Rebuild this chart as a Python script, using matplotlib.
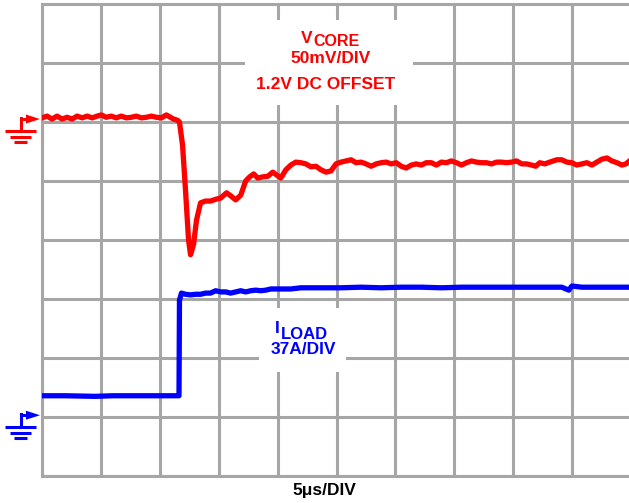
import numpy as np
import matplotlib.pyplot as plt
from matplotlib.lines import Line2D
from matplotlib.patches import Polygon, Rectangle
from matplotlib.transforms import IdentityTransform

# time in us (5 us/div), traces in screen divisions
t_core = [0.0, 0.43, 0.85, 1.28, 1.70, 2.13, 2.56, 2.98, 3.41, 3.83, 4.26, 4.69, 5.03, 5.45,
          5.88, 6.30, 6.73, 7.16, 7.58, 8.01, 8.43, 8.86, 9.28, 9.71, 10.14, 10.56, 10.90,
          11.16, 11.50, 11.67, 11.93, 12.18, 12.44, 12.61, 12.86, 13.12, 13.46, 13.88, 14.31,
          14.74, 15.16, 15.67, 16.01, 16.44, 16.87, 17.29, 17.63, 17.97, 18.31, 18.74, 19.17,
          19.59, 19.93, 20.27, 20.70, 21.12, 21.55, 21.98, 22.40, 22.83, 23.25, 23.68, 24.11,
          24.53, 24.96, 25.38, 25.81, 26.24, 26.66, 27.09, 27.51, 27.94, 28.37, 28.79, 29.22,
          29.64, 30.07, 30.49, 30.92, 31.35, 31.77, 32.20, 32.62, 33.05, 33.48, 33.90, 34.33,
          34.75, 35.18, 35.61, 36.03, 36.46, 36.88, 37.31, 37.73, 38.16, 38.59, 39.01, 39.44,
          39.86, 40.29, 40.72, 41.14, 41.57, 41.91, 42.25, 42.68, 43.10, 43.70, 44.12, 44.55,
          44.98, 45.40, 45.83, 46.25, 46.68, 47.10, 47.53, 47.96, 48.38, 48.81, 49.23, 49.57,
          50.0]
v_core = [6.07, 6.10, 6.05, 6.10, 6.05, 6.08, 6.05, 6.10, 6.07, 6.10, 6.07, 6.10, 6.12, 6.08,
          6.10, 6.07, 6.10, 6.07, 6.08, 6.10, 6.07, 6.08, 6.10, 6.08, 6.07, 6.12, 6.08,
          6.05, 6.03, 6.00, 5.61, 4.85, 4.00, 3.75, 3.92, 4.34, 4.63, 4.66, 4.66,
          4.69, 4.71, 4.80, 4.75, 4.68, 4.76, 5.00, 5.07, 5.12, 5.05, 5.07, 5.08,
          5.15, 5.10, 5.05, 5.19, 5.27, 5.32, 5.31, 5.29, 5.24, 5.25, 5.19, 5.15,
          5.17, 5.29, 5.32, 5.34, 5.36, 5.31, 5.32, 5.29, 5.25, 5.29, 5.31, 5.32,
          5.29, 5.31, 5.25, 5.22, 5.27, 5.29, 5.27, 5.31, 5.31, 5.27, 5.32, 5.31,
          5.34, 5.31, 5.27, 5.31, 5.34, 5.32, 5.31, 5.31, 5.29, 5.32, 5.32, 5.31,
          5.32, 5.34, 5.29, 5.29, 5.27, 5.25, 5.31, 5.29, 5.32, 5.36, 5.36, 5.32,
          5.31, 5.27, 5.29, 5.31, 5.27, 5.32, 5.37, 5.39, 5.34, 5.31, 5.27, 5.29,
          5.36]

t_load = [0.0, 2.0, 4.5, 6.0, 8.0, 10.0, 11.50, 11.63, 11.67, 11.84, 12.18, 12.61, 13.03,
          13.46, 13.88, 14.31, 14.74, 15.16, 15.59, 16.01, 16.44, 16.87, 17.29, 17.72, 18.14,
          18.57, 19.00, 19.42, 20.27, 21.12, 21.98, 22.83, 23.68, 25.38, 27.09, 28.79, 30.49,
          32.20, 33.90, 35.61, 37.31, 39.01, 40.72, 42.42, 44.12, 44.72, 44.98, 45.83, 47.53,
          50.0]
i_load = [1.36, 1.36, 1.35, 1.36, 1.36, 1.36, 1.36, 1.36, 2.98, 3.10, 3.08, 3.07, 3.08,
          3.08, 3.10, 3.10, 3.14, 3.12, 3.12, 3.10, 3.12, 3.14, 3.12, 3.14, 3.15,
          3.14, 3.15, 3.17, 3.17, 3.17, 3.19, 3.19, 3.19, 3.19, 3.20, 3.19, 3.20,
          3.20, 3.19, 3.20, 3.20, 3.20, 3.20, 3.20, 3.20, 3.15, 3.22, 3.20, 3.20,
          3.20]

RED = '#ff0000'
BLUE = '#0000ff'
GRID = '#a6a6a6'
FONT = 'Liberation Sans'

fig = plt.figure(figsize=(6.29, 5.03), dpi=100)
ax = fig.add_axes([42 / 629, 1 - 476 / 503, (631 - 42) / 629, 472 / 503])
ax.set_xlim(0, 50)
ax.set_ylim(0, 8)
ax.set_xticks(np.arange(0, 51, 5))
ax.set_yticks(np.arange(0, 9, 1))
ax.tick_params(length=0, labelbottom=False, labelleft=False)
ax.set_axisbelow(True)
ax.grid(True, color=GRID, lw=2.2)
for s in ax.spines.values():
    s.set_color(GRID)
    s.set_linewidth(2.2)

ax.plot(t_core, v_core, color=RED, lw=3.8, solid_joinstyle='round', zorder=3)
ax.plot(t_load, i_load, color=BLUE, lw=3.8, solid_joinstyle='round', zorder=3)

# white boxes behind the labels
ax.add_patch(Rectangle((17.2, 6.29), 14.3, 1.44, facecolor='white', edgecolor='none', zorder=1))
ax.add_patch(Rectangle((18.4, 1.76), 7.4, 1.09, facecolor='white', edgecolor='none', zorder=1))

tk = dict(fontfamily=FONT, fontweight='bold', zorder=4)
ax.text(23.0, 7.34, 'V', color=RED, fontsize=12.5, ha='right', va='baseline', **tk)
ax.text(23.0, 7.28, 'CORE', color=RED, fontsize=11.5, ha='left', va='baseline', **tk)
ax.text(24.5, 7.07, '50mV/DIV', color=RED, fontsize=12.5, ha='center', va='center', **tk)
ax.text(24.1, 6.63, '1.2V DC OFFSET', color=RED, fontsize=12.5, ha='center', va='center', **tk)

ax.text(20.2, 2.42, 'I', color=BLUE, fontsize=12.5, ha='right', va='baseline', **tk)
ax.text(20.3, 2.32, 'LOAD', color=BLUE, fontsize=12, ha='left', va='baseline', **tk)
ax.text(22.15, 2.15, '37A/DIV', color=BLUE, fontsize=12.5, ha='center', va='center', **tk)

fig.text(324 / 629, 1 - 491 / 503, '5\u03bcs/DIV', color='black', fontsize=12.5,
         ha='center', va='center', fontfamily=FONT, fontweight='bold')


def ground(level, color):
    x0, y0 = ax.transData.transform((0, level))
    tr = IdentityTransform()
    lw = 2.2
    fig.add_artist(Line2D([x0 - 21.5, x0 - 15], [y0, y0], color=color, lw=lw, transform=tr))
    fig.add_artist(Polygon([[x0 - 16, y0 + 4.5], [x0 - 16, y0 - 4.5], [x0 - 2, y0]],
                           closed=True, facecolor=color, edgecolor='none', transform=tr))
    fig.add_artist(Line2D([x0 - 21.5, x0 - 21.5], [y0 + 1, y0 - 12], color=color, lw=lw,
                          transform=tr))
    for dy, a, b in [(12.2, 37, 6), (17.7, 32, 11), (23.2, 28, 15)]:
        fig.add_artist(Line2D([x0 - a, x0 - b], [y0 - dy, y0 - dy], color=color, lw=lw,
                              solid_capstyle='butt', transform=tr))


ground(6.05, RED)
ground(1.03, BLUE)

fig.savefig('out.png', dpi=100)
